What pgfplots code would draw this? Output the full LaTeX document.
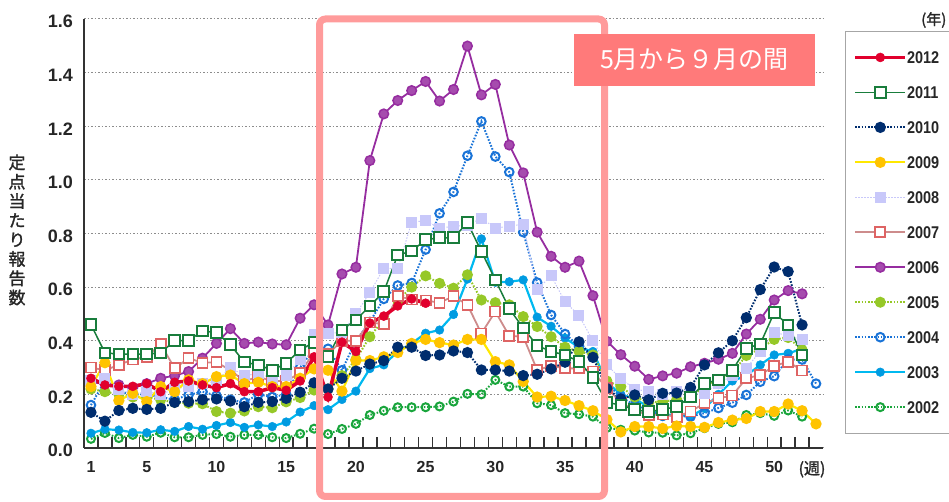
\documentclass[border=0pt]{standalone}
\usepackage{fontspec}
\setmainfont{Liberation Sans}
\newfontfamily\cjk{Noto Sans CJK JP}
\newfontfamily\cjkb[FakeBold=1.5]{Noto Sans CJK JP}
\newfontfamily\legfont[FakeStretch=0.85]{Liberation Sans}
\usepackage{pgfplots}
\pgfplotsset{compat=1.18}
\definecolor{c2012}{RGB}{225,0,45}
\definecolor{c2011}{RGB}{25,125,60}
\definecolor{c2010}{RGB}{0,45,110}
\definecolor{c2009l}{RGB}{255,232,0}
\definecolor{c2009m}{RGB}{255,195,0}
\definecolor{c2008}{RGB}{200,200,250}
\definecolor{c2007l}{RGB}{205,140,140}
\definecolor{c2007m}{RGB}{222,100,100}
\definecolor{c2006}{RGB}{150,45,160}
\definecolor{c2005}{RGB}{150,200,40}
\definecolor{c2004}{RGB}{25,115,215}
\definecolor{c2003l}{RGB}{0,185,240}
\definecolor{c2003m}{RGB}{0,155,225}
\definecolor{c2002}{RGB}{25,165,60}
\definecolor{framepink}{RGB}{255,155,155}
\definecolor{boxpink}{RGB}{255,122,122}
\newcommand{\legtxt}[1]{\makebox[44pt][l]{#1}}
\begin{document}
\begin{tikzpicture}
\begin{axis}[
  at={(84pt,54pt)}, anchor=south west,
  scale only axis, width=739pt, height=429pt,
  xmin=0.5, xmax=53.5, ymin=0, ymax=1.6,
  clip=false,
  axis x line=bottom, axis y line=left,
  axis line style={-, line width=2.6pt, draw=black!80},
  xtick={1,5,10,15,20,25,30,35,40,45,50},
  minor xtick={1.5,2.5,...,52.5},
  ytick={0,0.2,0.4,0.6,0.8,1.0,1.2,1.4,1.6},
  yticklabels={0.0,0.2,0.4,0.6,0.8,1.0,1.2,1.4,1.6},
  major tick length=0pt,
  minor tick length=11pt,
  tick align=inside,
  minor tick style={line width=1.4pt, draw=black!80},
  /pgf/number format/assume math mode=true,
  xticklabel style={font=\bfseries\fontsize{16}{16}\selectfont, inner sep=0pt, yshift=-13pt, text=black!85},
  yticklabel style={font=\bfseries\fontsize{18}{18}\selectfont, inner sep=0pt, xshift=-11pt, yshift=-2.5pt, text=black!85},
  ymajorgrids,
  major grid style={line width=1pt, draw=black!45, dash pattern=on 1.5pt off 2pt},
  reverse legend,
  legend cell align=left,
  legend image code/.code={\draw[mark repeat=2,mark phase=2,#1] plot coordinates {(0pt,0pt) (25pt,0pt) (50pt,0pt)};},
  legend style={at={(1.0298,0.972)}, anchor=north west, draw=black!35, line width=1pt,
    font=\legfont\bfseries\fontsize{17}{17}\selectfont, text=black!85, inner xsep=8pt, inner ysep=20pt,
    row sep=23.1pt, nodes={inner sep=0pt, text depth=0pt},
    /tikz/every even column/.append style={column sep=10pt}},
]
% 2002
\addplot[c2002, line width=2pt, dash pattern=on 1.6pt off 1.6pt, mark=o, mark size=4pt, mark options={solid, fill=white, line width=2pt}] coordinates {
(1,0.034)(2,0.056)(3,0.037)(4,0.049)(5,0.042)(6,0.057)(7,0.040)(8,0.040)(9,0.049)(10,0.052)
(11,0.042)(12,0.049)(13,0.049)(14,0.040)(15,0.037)(16,0.053)(17,0.072)(18,0.052)(19,0.071)(20,0.090)
(21,0.123)(22,0.139)(23,0.152)(24,0.152)(25,0.152)(26,0.155)(27,0.173)(28,0.202)(29,0.200)(30,0.254)
(31,0.229)(32,0.229)(33,0.167)(34,0.160)(35,0.130)(36,0.126)(37,0.117)(38,0.075)(39,0.068)(40,0.065)
(41,0.058)(42,0.057)(43,0.047)(44,0.055)(45,0.074)(46,0.090)(47,0.096)(48,0.123)(49,0.130)(50,0.120)
(51,0.140)(52,0.117)};
\addlegendentry{\legtxt{2002}}
% 2003
\addplot[c2003l, line width=2.2pt, mark=*, mark size=4.3pt, mark options={solid, fill=c2003m, draw=c2003m, line width=0.5pt}] coordinates {
(1,0.055)(2,0.070)(3,0.067)(4,0.058)(5,0.057)(6,0.068)(7,0.062)(8,0.080)(9,0.070)(10,0.084)
(11,0.095)(12,0.077)(13,0.086)(14,0.080)(15,0.097)(16,0.134)(17,0.158)(18,0.143)(19,0.181)(20,0.212)
(21,0.296)(22,0.310)(23,0.360)(24,0.390)(25,0.428)(26,0.440)(27,0.498)(28,0.630)(29,0.780)(30,0.618)
(31,0.620)(32,0.627)(33,0.488)(34,0.454)(35,0.410)(36,0.375)(37,0.360)(38,0.245)(39,0.200)(40,0.183)
(41,0.153)(42,0.117)(43,0.130)(44,0.117)(45,0.148)(46,0.200)(47,0.250)(48,0.270)(49,0.310)(50,0.347)
(51,0.353)(52,0.370)};
\addlegendentry{\legtxt{2003}}
% 2004
\addplot[c2004, line width=2pt, dash pattern=on 1.6pt off 1.6pt, mark=o, mark size=4.3pt, mark options={solid, fill=white, line width=2pt}] coordinates {
(1,0.160)(2,0.250)(3,0.210)(4,0.200)(5,0.200)(6,0.190)(7,0.180)(8,0.198)(9,0.210)(10,0.195)
(11,0.180)(12,0.170)(13,0.200)(14,0.190)(15,0.200)(16,0.300)(17,0.370)(18,0.370)(19,0.290)(20,0.400)
(21,0.470)(22,0.556)(23,0.606)(24,0.615)(25,0.740)(26,0.875)(27,0.955)(28,1.090)(29,1.218)(30,1.087)
(31,1.029)(32,0.805)(33,0.617)(34,0.496)(35,0.425)(36,0.380)(37,0.340)(38,0.240)(39,0.190)(40,0.160)
(41,0.140)(42,0.120)(43,0.120)(44,0.117)(45,0.130)(46,0.149)(47,0.169)(48,0.198)(49,0.247)(50,0.268)
(51,0.330)(52,0.330)(53,0.240)};
\addlegendentry{\legtxt{2004}}
% 2005
\addplot[c2005, line width=2pt, dash pattern=on 1.6pt off 1.6pt, mark=*, mark size=4.5pt, mark options={solid, fill=c2005, draw=c2005}] coordinates {
(1,0.220)(2,0.210)(3,0.200)(4,0.190)(5,0.190)(6,0.180)(7,0.170)(8,0.167)(9,0.165)(10,0.136)
(11,0.130)(12,0.138)(13,0.154)(14,0.150)(15,0.172)(16,0.188)(17,0.216)(18,0.220)(19,0.270)(20,0.330)
(21,0.415)(22,0.480)(23,0.550)(24,0.600)(25,0.642)(26,0.614)(27,0.596)(28,0.646)(29,0.552)(30,0.542)
(31,0.534)(32,0.490)(33,0.453)(34,0.415)(35,0.376)(36,0.360)(37,0.347)(38,0.250)(39,0.229)(40,0.190)
(41,0.170)(42,0.173)(43,0.180)(44,0.190)(45,0.230)(46,0.254)(47,0.280)(48,0.345)(49,0.370)(50,0.405)
(51,0.412)(52,0.366)};
\addlegendentry{\legtxt{2005}}
% 2006
\addplot[c2006, line width=1.8pt, mark=*, mark size=4.8pt, mark options={solid, fill=c2006!85!white, draw=c2006, line width=1.5pt}] coordinates {
(1,0.245)(2,0.240)(3,0.235)(4,0.225)(5,0.240)(6,0.260)(7,0.270)(8,0.285)(9,0.335)(10,0.390)
(11,0.445)(12,0.390)(13,0.395)(14,0.388)(15,0.385)(16,0.484)(17,0.534)(18,0.459)(19,0.649)(20,0.674)
(21,1.072)(22,1.246)(23,1.296)(24,1.333)(25,1.367)(26,1.294)(27,1.337)(28,1.499)(29,1.317)(30,1.356)
(31,1.130)(32,1.026)(33,0.805)(34,0.715)(35,0.674)(36,0.697)(37,0.568)(38,0.398)(39,0.348)(40,0.305)
(41,0.256)(42,0.269)(43,0.279)(44,0.303)(45,0.316)(46,0.331)(47,0.353)(48,0.425)(49,0.480)(50,0.552)
(51,0.587)(52,0.575)};
\addlegendentry{\legtxt{2006}}
% 2007
\addplot[c2007l, line width=1.8pt, mark=square*, mark size=5pt, mark options={solid, fill=white, draw=c2007m, line width=1.8pt}] coordinates {
(1,0.300)(2,0.290)(3,0.310)(4,0.330)(5,0.340)(6,0.388)(7,0.297)(8,0.335)(9,0.318)(10,0.320)
(11,0.290)(12,0.250)(13,0.265)(14,0.250)(15,0.250)(16,0.280)(17,0.357)(18,0.350)(19,0.400)(20,0.400)
(21,0.468)(22,0.462)(23,0.566)(24,0.554)(25,0.550)(26,0.542)(27,0.566)(28,0.534)(29,0.427)(30,0.509)
(31,0.418)(32,0.415)(33,0.291)(34,0.306)(35,0.297)(36,0.297)(37,0.285)(38,0.223)(39,0.170)(40,0.140)
(41,0.123)(42,0.125)(43,0.117)(44,0.136)(45,0.167)(46,0.185)(47,0.196)(48,0.260)(49,0.272)(50,0.306)
(51,0.322)(52,0.289)};
\addlegendentry{\legtxt{2007}}
% 2008
\addplot[c2008, line width=1pt, dash pattern=on 1.5pt off 1.5pt, mark=square*, mark size=5pt, mark options={solid, fill=c2008, draw=c2008}] coordinates {
(1,0.250)(2,0.260)(3,0.220)(4,0.200)(5,0.210)(6,0.200)(7,0.220)(8,0.230)(9,0.240)(10,0.250)
(11,0.300)(12,0.270)(13,0.277)(14,0.260)(15,0.270)(16,0.330)(17,0.425)(18,0.428)(19,0.430)(20,0.500)
(21,0.580)(22,0.670)(23,0.670)(24,0.842)(25,0.848)(26,0.820)(27,0.827)(28,0.830)(29,0.857)(30,0.820)
(31,0.827)(32,0.835)(33,0.590)(34,0.643)(35,0.545)(36,0.494)(37,0.400)(38,0.310)(39,0.258)(40,0.220)
(41,0.210)(42,0.200)(43,0.210)(44,0.200)(45,0.205)(46,0.240)(47,0.270)(48,0.298)(49,0.360)(50,0.430)
(51,0.420)(52,0.403)};
\addlegendentry{\legtxt{2008}}
% 2009
\addplot[c2009l, line width=2.2pt, mark=*, mark size=4.5pt, mark options={solid, fill=c2009m, draw=c2009m}] coordinates {
(1,0.229)(2,0.318)(3,0.177)(4,0.204)(5,0.173)(6,0.229)(7,0.210)(8,0.254)(9,0.240)(10,0.266)
(11,0.272)(12,0.240)(13,0.245)(14,0.229)(15,0.229)(16,0.260)(17,0.295)(18,0.290)(19,0.212)(20,0.326)
(21,0.326)(22,0.340)(23,0.356)(24,0.390)(25,0.405)(26,0.393)(27,0.384)(28,0.405)(29,0.405)(30,0.322)
(31,0.310)(32,0.248)(33,0.190)(34,0.193)(35,0.177)(36,0.158)(37,0.139)(38,0.106)(39,0.060)(40,0.080)
(41,0.080)(42,0.073)(43,0.082)(44,0.080)(45,0.077)(46,0.095)(47,0.104)(48,0.110)(49,0.136)(50,0.136)
(51,0.164)(52,0.139)(53,0.090)};
\addlegendentry{\legtxt{2009}}
% 2010
\addplot[c2010, line width=2pt, dash pattern=on 1.6pt off 1.6pt, mark=*, mark size=4.6pt, mark options={solid, fill=c2010, draw=c2010}] coordinates {
(1,0.133)(2,0.100)(3,0.140)(4,0.148)(5,0.144)(6,0.148)(7,0.170)(8,0.173)(9,0.180)(10,0.183)
(11,0.175)(12,0.154)(13,0.170)(14,0.173)(15,0.185)(16,0.208)(17,0.243)(18,0.220)(19,0.260)(20,0.287)
(21,0.313)(22,0.326)(23,0.376)(24,0.376)(25,0.345)(26,0.347)(27,0.362)(28,0.356)(29,0.291)(30,0.291)
(31,0.287)(32,0.270)(33,0.275)(34,0.295)(35,0.320)(36,0.396)(37,0.338)(38,0.222)(39,0.183)(40,0.198)
(41,0.180)(42,0.204)(43,0.205)(44,0.226)(45,0.310)(46,0.355)(47,0.400)(48,0.486)(49,0.591)(50,0.675)
(51,0.658)(52,0.459)};
\addlegendentry{\legtxt{2010}}
% 2011
\addplot[c2011, line width=1.5pt, mark=square*, mark size=5.3pt, mark options={solid, fill=white, draw=c2011, line width=2pt}] coordinates {
(1,0.460)(2,0.355)(3,0.350)(4,0.350)(5,0.350)(6,0.355)(7,0.400)(8,0.400)(9,0.437)(10,0.430)
(11,0.385)(12,0.320)(13,0.310)(14,0.290)(15,0.316)(16,0.366)(17,0.394)(18,0.342)(19,0.440)(20,0.478)
(21,0.529)(22,0.583)(23,0.720)(24,0.734)(25,0.777)(26,0.784)(27,0.784)(28,0.840)(29,0.733)(30,0.627)
(31,0.520)(32,0.447)(33,0.382)(34,0.360)(35,0.347)(36,0.322)(37,0.264)(38,0.170)(39,0.160)(40,0.143)
(41,0.135)(42,0.144)(43,0.154)(44,0.190)(45,0.241)(46,0.254)(47,0.290)(48,0.372)(49,0.388)(50,0.505)
(51,0.459)(52,0.347)};
\addlegendentry{\legtxt{2011}}
% 2012
\addplot[c2012, line width=3.5pt, mark=*, mark size=4.5pt, mark options={solid, fill=c2012, draw=c2012, line width=0.5pt}] coordinates {
(1,0.260)(2,0.235)(3,0.230)(4,0.230)(5,0.240)(6,0.210)(7,0.245)(8,0.250)(9,0.235)(10,0.225)
(11,0.240)(12,0.210)(13,0.210)(14,0.225)(15,0.215)(16,0.250)(17,0.340)(18,0.190)(19,0.395)(20,0.360)
(21,0.466)(22,0.492)(23,0.530)(24,0.556)(25,0.540)};
\addlegendentry{\legtxt{2012}}
\end{axis}
% y label (stacked)
\node[font=\cjkb\fontsize{17}{19.3}\selectfont, align=center, text=black!85, inner sep=0pt] at (17pt,272pt) {定\\点\\当\\た\\り\\報\\告\\数};
% week unit
\node[font=\cjkb\fontsize{16}{16}\selectfont, anchor=north, inner sep=0pt, text=black!85] at (812pt,41pt) {(週)};
% year unit
\node[font=\cjkb\fontsize{15}{15}\selectfont, anchor=west, inner sep=0pt, text=black!85] at (921pt,482pt) {(年)};
% highlight frame
\draw[framepink, line width=7pt, rounded corners=6pt] (319.5pt,5.5pt) rectangle (604.5pt,483pt);
% label box
\fill[boxpink] (574pt,416pt) rectangle (815pt,468pt);
\node[font=\cjk\fontsize{25}{25}\selectfont, text=white, inner sep=0pt] at (694.5pt,442pt) {5月から９月の間};
\pgfresetboundingbox
\path (0,0) rectangle (949pt,502pt);
\end{tikzpicture}
\end{document}
